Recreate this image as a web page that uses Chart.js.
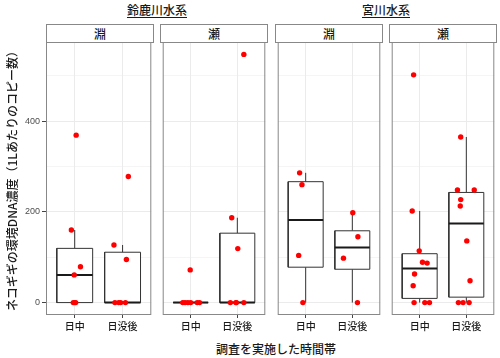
<!DOCTYPE html>
<html><head><meta charset="utf-8">
<script src="https://cdn.jsdelivr.net/npm/chart.js@4"></script>
<style>
body{margin:0;background:#fff;}
#wrap{position:relative;width:500px;height:358px;overflow:hidden;font-family:"Noto Sans CJK JP",sans-serif;color:#1a1a1a;background:#fff}
.cv{position:absolute;}
.strip{position:absolute;box-sizing:border-box;border:1px solid #888;background:#fff;text-align:center;font-size:12px;line-height:17px;color:#1a1a1a;font-weight:500}
.group{position:absolute;text-align:center;font-size:12px;line-height:14px;font-weight:500}
.group span{text-decoration:underline;text-underline-offset:2px;}
.ytitle{position:absolute;width:300px;height:16px;line-height:16px;font-size:12px;text-align:center;transform:rotate(-90deg);font-weight:500}
.xtitle{position:absolute;width:300px;line-height:14px;font-size:12px;text-align:center;font-weight:500}
</style></head><body><div id="wrap"></div>
<script>
// ---- data ----
const categories = ['日中', '日没後'];
const groups = ['鈴鹿川水系', '宮川水系'];
const habitats = ['淵', '瀬', '淵', '瀬'];
const yTicks = [0, 200, 400];
const yMinorTicks = [100, 300, 500];
const yLabel = 'ネコギギの環境DNA濃度（1Lあたりのコピー数）';
const xLabel = '調査を実施した時間帯';

// values per panel / time
const suzukaFuchiDay    = [369, 160, 79, 61, 0, 0, 0];
const suzukaFuchiNight  = [278, 127, 95, 0, 0, 0, 0];
const suzukaSeDay       = [72, 0, 0, 0, 0, 0, 0];
const suzukaSeNight     = [547, 187, 119, 0, 0, 0, 0];
const miyaFuchiDay      = [286, 260, 104, 0];
const miyaFuchiNight    = [198, 145, 98, 0];
const miyaSeDay         = [502, 202, 114, 89, 87, 63, 37, 0, 0, 0];
const miyaSeNight       = [365, 248, 248, 227, 213, 136, 48, 0, 0, 0];

// horizontal jitter (category units)
const suzukaFuchiDayJit   = [0.03, -0.07, 0.12, -0.01, -0.03, 0, 0.02];
const suzukaFuchiNightJit = [0.12, -0.18, 0.08, -0.16, -0.08, -0.04, 0.06];
const suzukaSeDayJit      = [-0.01, -0.17, -0.12, -0.06, 0, 0.14, 0.19];
const suzukaSeNightJit    = [0.14, -0.12, 0.01, -0.15, -0.03, -0.02, 0.14];
const miyaFuchiDayJit     = [-0.13, -0.08, -0.15, -0.06];
const miyaFuchiNightJit   = [0.01, 0.12, -0.19, 0.11];
const miyaSeDayJit        = [-0.13, -0.16, -0.01, 0.06, 0.16, -0.11, -0.14, -0.12, 0.11, 0.21];
const miyaSeNightJit      = [-0.12, -0.19, 0.17, -0.12, -0.13, 0.01, 0.08, -0.17, -0.07, 0.06];

const panels = [
  [[suzukaFuchiDay, suzukaFuchiDayJit], [suzukaFuchiNight, suzukaFuchiNightJit]],
  [[suzukaSeDay, suzukaSeDayJit], [suzukaSeNight, suzukaSeNightJit]],
  [[miyaFuchiDay, miyaFuchiDayJit], [miyaFuchiNight, miyaFuchiNightJit]],
  [[miyaSeDay, miyaSeDayJit], [miyaSeNight, miyaSeNightJit]]
];

// ---- layout / style ----
const panelLefts = [46, 160, 275, 389];
const panelW = 108;
const yAxisW = 46;
const canvasTop = 32, topPad = 10, xAxisH = 20;
const panelTop = 42, panelBottom = 315;
const allVals = [].concat(...panels.map(p => p[0][0].concat(p[1][0])));
const vMax = Math.max(...allVals), vMin = Math.min(...allVals);
const yMin = vMin - 0.05 * (vMax - vMin), yMax = vMax + 0.05 * (vMax - vMin);
const boxHalf = 0.375;
const numFont = '"Liberation Sans", Arial, sans-serif';
const jpFont = '"Noto Sans CJK JP", sans-serif';

function quant(s, p) {
  const h = (s.length - 1) * p, lo = Math.floor(h), hi = Math.ceil(h);
  return s[lo] + (h - lo) * (s[hi] - s[lo]);
}
function stats(vals) {
  const s = vals.slice().sort((a, b) => a - b);
  const q1 = quant(s, 0.25), med = quant(s, 0.5), q3 = quant(s, 0.75);
  const iqr = q3 - q1;
  const up = Math.max(...s.filter(v => v <= q3 + 1.5 * iqr));
  const lo = Math.min(...s.filter(v => v >= q1 - 1.5 * iqr));
  return {q1, med, q3, up, lo};
}

const borderPlugin = {
  id: 'panelBorder',
  afterDraw(chart) {
    const a = chart.chartArea, ctx = chart.ctx;
    ctx.save();
    ctx.strokeStyle = '#888';
    ctx.lineWidth = 1;
    ctx.strokeRect(a.left + 0.5, a.top + 0.5, a.width - 1, a.height - 1);
    ctx.restore();
  }
};

const wrap = document.getElementById('wrap');

function lineDs(pts, color, width, order, fill) {
  return {
    data: pts.map(p => ({x: p[0], y: p[1]})),
    borderColor: color, borderWidth: width, pointRadius: 0, showLine: true,
    fill: fill ? 'shape' : false, backgroundColor: '#fff', tension: 0, order: order
  };
}

panels.forEach((panel, i) => {
  const first = i === 0;
  const datasets = [];
  panel.forEach(([vals, jit], ci) => {
    const c = ci + 1;
    const st = stats(vals);
    datasets.push({
      data: vals.map((v, k) => ({x: c + jit[k], y: v})),
      showLine: false, pointRadius: 2.7, pointHoverRadius: 2.7,
      pointBackgroundColor: '#ff0000', pointBorderWidth: 0, borderColor: '#ff0000', order: 0
    });
    datasets.push(lineDs([[c - boxHalf, st.med], [c + boxHalf, st.med]], '#1a1a1a', 2, 1, false));
    datasets.push(lineDs([[c - boxHalf, st.q1], [c + boxHalf, st.q1], [c + boxHalf, st.q3], [c - boxHalf, st.q3], [c - boxHalf, st.q1]], '#333', 1, 2, true));
    datasets.push(lineDs([[c, st.q3], [c, st.up]], '#333', 1, 3, false));
    datasets.push(lineDs([[c, st.lo], [c, st.q1]], '#333', 1, 3, false));
  });

  const w = panelW + (first ? yAxisW : 0);
  const h = (panelBottom - canvasTop) + xAxisH;
  const div = document.createElement('div');
  div.className = 'cv';
  div.style.left = (panelLefts[i] - (first ? yAxisW : 0)) + 'px';
  div.style.top = canvasTop + 'px';
  div.style.width = w + 'px';
  div.style.height = h + 'px';
  const cv = document.createElement('canvas');
  cv.width = w; cv.height = h;
  cv.style.width = w + 'px'; cv.style.height = h + 'px';
  div.appendChild(cv);
  wrap.appendChild(div);

  new Chart(cv, {
    type: 'line',
    data: {datasets},
    options: {
      responsive: false, animation: false, devicePixelRatio: 1,
      layout: {padding: {top: topPad, left: 0, right: 0, bottom: 0}},
      plugins: {legend: {display: false}, tooltip: {enabled: false}},
      events: [],
      scales: {
        x: {
          type: 'linear', min: 0.4, max: 2.6,
          afterBuildTicks: s => { s.ticks = categories.map((_, k) => ({value: k + 1})); },
          afterFit: s => { s.height = xAxisH; },
          ticks: {callback: v => categories[Math.round(v) - 1], font: {family: jpFont, size: 10, weight: '500'}, color: '#1a1a1a', padding: 2, maxRotation: 0, autoSkip: false},
          grid: {color: '#ebebeb', lineWidth: 1, tickLength: 3, tickColor: '#444', drawTicks: true},
          border: {display: false}
        },
        y: {
          type: 'linear', position: 'left', min: yMin, max: yMax,
          afterBuildTicks: s => { s.ticks = yTicks.map(v => ({value: v})); },
          afterFit: s => { s.width = first ? yAxisW : 0; },
          ticks: {display: first, font: {family: numFont, size: 9}, color: '#4d4d4d', padding: 2},
          grid: {color: '#ebebeb', lineWidth: 1, tickLength: 4, tickColor: '#444', drawTicks: first},
          border: {display: false}
        },
        y2: {
          type: 'linear', position: 'left', min: yMin, max: yMax,
          afterBuildTicks: s => { s.ticks = yMinorTicks.map(v => ({value: v})); },
          afterFit: s => { s.width = 0; },
          ticks: {display: false},
          grid: {color: '#ebebeb', lineWidth: 0.5, drawTicks: false},
          border: {display: false}
        }
      }
    },
    plugins: [borderPlugin]
  });

  const strip = document.createElement('div');
  strip.className = 'strip';
  strip.style.left = panelLefts[i] + 'px';
  strip.style.top = '24px';
  strip.style.width = panelW + 'px';
  strip.style.height = '19px';
  strip.textContent = habitats[i];
  wrap.appendChild(strip);
});

groups.forEach((g, gi) => {
  const d = document.createElement('div');
  d.className = 'group';
  const l = panelLefts[gi * 2], r = panelLefts[gi * 2 + 1] + panelW;
  d.style.left = l + 'px';
  d.style.width = (r - l) + 'px';
  d.style.top = '3px';
  const sp = document.createElement('span');
  sp.textContent = g;
  d.appendChild(sp);
  wrap.appendChild(d);
});

const yt = document.createElement('div');
yt.className = 'ytitle';
yt.style.left = (12 - 150) + 'px';
yt.style.top = (178 - 8) + 'px';
yt.textContent = yLabel;
wrap.appendChild(yt);

const xt = document.createElement('div');
xt.className = 'xtitle';
xt.style.left = (276 - 150) + 'px';
xt.style.top = '342px';
xt.textContent = xLabel;
wrap.appendChild(xt);
</script></body></html>
